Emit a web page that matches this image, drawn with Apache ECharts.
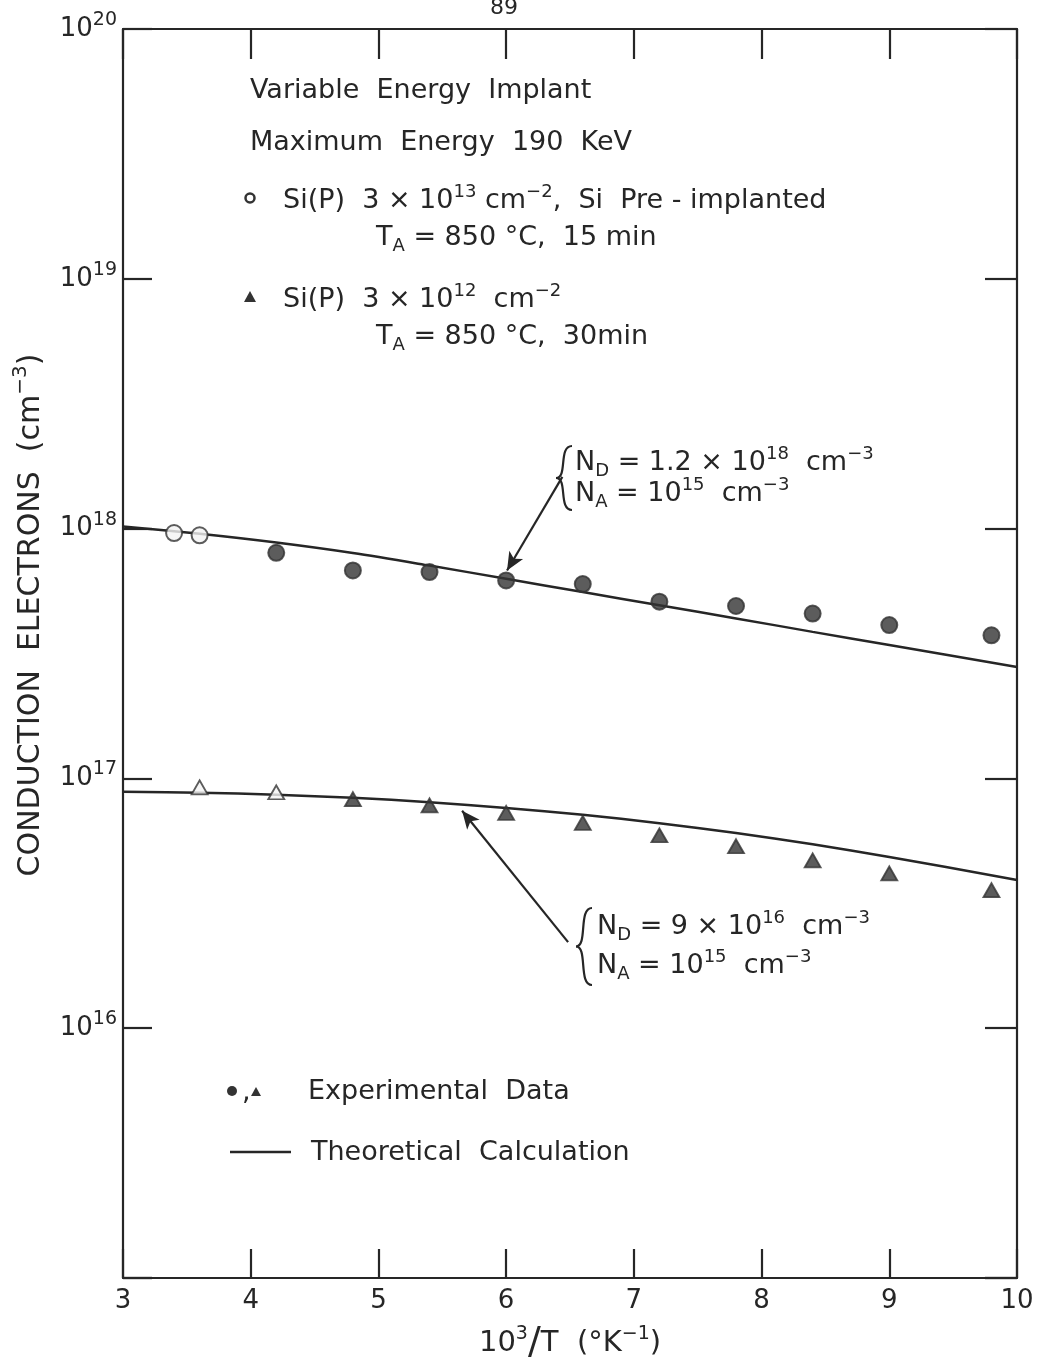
<!DOCTYPE html>
<html>
<head>
<meta charset="utf-8">
<script src="https://cdn.jsdelivr.net/npm/echarts@6/dist/echarts.min.js"></script>
<style>
html,body{margin:0;padding:0;background:#fff;}
#c{width:1042px;height:1363px;}
</style>
</head>
<body>
<div id="c"></div>
<script>
// ---- data ----
const xTicks = [3, 4, 5, 6, 7, 8, 9, 10];
const yExponents = [15, 16, 17, 18, 19, 20];

// Si(P) 3e13, Si pre-implanted (circles)
const circleX = [3.4, 3.6, 4.2, 4.8, 5.4, 6.0, 6.6, 7.2, 7.8, 8.4, 9.0, 9.8];
const circleY = [9.6e17, 9.4e17, 8.0e17, 6.8e17, 6.7e17, 6.2e17, 6.0e17, 5.1e17, 4.9e17, 4.57e17, 4.11e17, 3.74e17];

// Si(P) 3e12 (triangles)
const triX = [3.6, 4.2, 4.8, 5.4, 6.0, 6.6, 7.2, 7.8, 8.4, 9.0, 9.8];
const triY = [9.2e16, 8.8e16, 8.26e16, 7.8e16, 7.27e16, 6.63e16, 5.92e16, 5.35e16, 4.7e16, 4.17e16, 3.57e16];

// theoretical calculations
const theoryX = [3.0, 3.6, 4.2, 4.8, 5.4, 6.0, 6.6, 7.2, 7.8, 8.4, 9.0, 10.0];
const theoryUpper = [1.02e18, 9.53e17, 8.79e17, 7.98e17, 7.11e17, 6.3e17, 5.57e17, 4.93e17, 4.37e17, 3.86e17, 3.42e17, 2.79e17];
const theoryLower = [8.85e16, 8.77e16, 8.6e16, 8.36e16, 8.03e16, 7.62e16, 7.15e16, 6.62e16, 6.04e16, 5.45e16, 4.85e16, 3.92e16];

// annotation arrows [tail, tip] in data coordinates
const arrowUpper = [[6.44, 1.61e18], [6.007, 6.8e17]];
const arrowLower = [[6.485, 2.21e16], [5.655, 7.42e16]];

// ---- chart ----
const F = 'DejaVu Sans';
const C = '#262626';
const zip = (xs, ys) => xs.map((x, i) => [x, ys[i]]);

function richFor(size) {
  const s = Math.round(size * 0.67);
  return {
    n: { fontSize: size, fontFamily: F, fill: C },
    p: { fontSize: s, fontFamily: F, fill: C, padding: [0, 0, Math.round(size * 0.67), 0] },
    q: { fontSize: s, fontFamily: F, fill: C, padding: [Math.round(size * 0.6), 0, 0, 0] }
  };
}
function T(x, y, text, size, rot) {
  size = size || 27;
  return {
    type: 'text', x: x, y: y, silent: true, rotation: rot || 0,
    style: { text: text, rich: richFor(size), verticalAlign: 'middle', align: rot ? 'center' : 'left', fontFamily: F, fontSize: size, fill: C }
  };
}
function brace(x, top, bottom) {
  const mid = (top + bottom) / 2;
  const w = 12;
  const st = { fill: null, stroke: C, lineWidth: 2.2 };
  return [
    { type: 'bezierCurve', silent: true,
      shape: { x1: x + w, y1: top, x2: x - 4, y2: mid, cpx1: x - 2, cpy1: top, cpx2: x + 8, cpy2: mid },
      style: st },
    { type: 'bezierCurve', silent: true,
      shape: { x1: x - 4, y1: mid, x2: x + w, y2: bottom, cpx1: x + 8, cpy1: mid, cpx2: x - 2, cpy2: bottom },
      style: st }
  ];
}

const chart = echarts.init(document.getElementById('c'), null, { renderer: 'canvas' });

const axisLineStyle = { color: C, width: 2.2 };

const option = {
  backgroundColor: '#fff',
  animation: false,
  grid: { left: 123, right: 25, top: 29, bottom: 85, containLabel: false, outerBoundsMode: 'none' },
  xAxis: [
    {
      type: 'value', min: xTicks[0], max: xTicks[xTicks.length - 1], interval: 1,
      position: 'bottom',
      axisLine: { show: true, lineStyle: axisLineStyle },
      axisTick: { show: true, inside: true, length: 29, lineStyle: { color: C, width: 2.2 } },
      splitLine: { show: false },
      axisLabel: { show: true, margin: 10, fontSize: 26, fontFamily: F, color: C },
      name: '{n|10}{p|3}{s|/}{n|T  (°K}{p|−1}{n|)}',
      nameLocation: 'middle', nameGap: 46,
      nameTextStyle: {
        rich: {
          n: { fontSize: 29, fontFamily: F, color: C },
          p: { fontSize: 19, fontFamily: F, color: C, padding: [0, 0, 18, 0] },
          s: { fontSize: 38, fontFamily: F, color: C }
        }
      }
    },
    {
      type: 'value', min: xTicks[0], max: xTicks[xTicks.length - 1], interval: 1,
      position: 'top',
      axisLine: { show: true, lineStyle: axisLineStyle },
      axisTick: { show: true, inside: true, length: 30, lineStyle: { color: C, width: 2.2 } },
      splitLine: { show: false },
      axisLabel: { show: false }
    }
  ],
  yAxis: [
    {
      type: 'log', logBase: 10,
      min: Math.pow(10, yExponents[0]), max: Math.pow(10, yExponents[yExponents.length - 1]),
      position: 'left',
      axisLine: { show: true, lineStyle: axisLineStyle },
      axisTick: { show: true, inside: true, length: 29, lineStyle: { color: C, width: 2.2 } },
      splitLine: { show: false },
      minorTick: { show: false },
      axisLabel: {
        show: true, margin: 6,
        formatter: function (v) {
          const e = Math.round(Math.log10(v));
          if (e === yExponents[0]) return '';
          return '{b|10}{s|' + e + '}';
        },
        rich: {
          b: { fontSize: 26, fontFamily: F, color: C },
          s: { fontSize: 19, fontFamily: F, color: C, padding: [0, 0, 18, 0] }
        }
      }
    },
    {
      type: 'log', logBase: 10,
      min: Math.pow(10, yExponents[0]), max: Math.pow(10, yExponents[yExponents.length - 1]),
      position: 'right',
      axisLine: { show: true, lineStyle: axisLineStyle },
      axisTick: { show: true, inside: true, length: 32, lineStyle: { color: C, width: 2.2 } },
      splitLine: { show: false },
      minorTick: { show: false },
      axisLabel: { show: false }
    }
  ],
  series: [
    {
      name: 'theory upper', type: 'line', data: zip(theoryX, theoryUpper),
      showSymbol: false, smooth: 0.3, silent: true,
      lineStyle: { color: C, width: 2.5 }, z: 2
    },
    {
      name: 'theory lower', type: 'line', data: zip(theoryX, theoryLower),
      showSymbol: false, smooth: 0.3, silent: true,
      lineStyle: { color: C, width: 2.5 }, z: 2
    },
    {
      name: 'Si(P) 3e13', type: 'scatter', data: zip(circleX, circleY),
      symbol: 'circle', symbolSize: 16, z: 3,
      itemStyle: {
        color: function (p) { return p.dataIndex < 2 ? '#f4f4f4' : '#333'; },
        borderColor: '#333', borderWidth: 2
      },
      markLine: {
        silent: true, symbol: ['none', 'arrow'], symbolSize: [12, 18],
        label: { show: false },
        lineStyle: { color: C, width: 2.2, type: 'solid' },
        data: [
          [{ coord: arrowUpper[0] }, { coord: arrowUpper[1] }],
          [{ coord: arrowLower[0] }, { coord: arrowLower[1] }]
        ]
      }
    },
    {
      name: 'Si(P) 3e12', type: 'scatter', data: zip(triX, triY),
      symbol: 'triangle', symbolSize: [16, 14], z: 3,
      itemStyle: {
        color: function (p) { return p.dataIndex < 2 ? '#f4f4f4' : '#333'; },
        borderColor: '#333', borderWidth: 1.8
      }
    }
  ],
  graphic: [
    T(490, 8, '89', 22),
    T(31, 615, '{n|CONDUCTION  ELECTRONS  (cm}{p|−3}{n|)}', 30, Math.PI / 2),
    T(250, 91, 'Variable  Energy  Implant'),
    T(250, 143, 'Maximum  Energy  190  KeV'),
    { type: 'circle', silent: true, shape: { cx: 250, cy: 198, r: 4.5 }, style: { fill: '#fff', stroke: '#333', lineWidth: 2.5 } },
    T(283, 201, '{n|Si(P)  3 × 10}{p|13}{n| cm}{p|−2}{n|,  Si  Pre - implanted}'),
    T(376, 238, '{n|T}{q|A}{n| = 850 °C,  15 min}'),
    { type: 'polygon', silent: true, shape: { points: [[250, 291], [244, 302], [256, 302]] }, style: { fill: '#333' } },
    T(283, 300, '{n|Si(P)  3 × 10}{p|12}{n|  cm}{p|−2}'),
    T(376, 337, '{n|T}{q|A}{n| = 850 °C,  30min}'),
    ...brace(560, 446, 510),
    T(575, 463, '{n|N}{q|D}{n| = 1.2 × 10}{p|18}{n|  cm}{p|−3}'),
    T(575, 494, '{n|N}{q|A}{n| = 10}{p|15}{n|  cm}{p|−3}'),
    ...brace(580, 908, 985),
    T(597, 927, '{n|N}{q|D}{n| = 9 × 10}{p|16}{n|  cm}{p|−3}'),
    T(597, 966, '{n|N}{q|A}{n| = 10}{p|15}{n|  cm}{p|−3}'),
    { type: 'circle', silent: true, shape: { cx: 232, cy: 1091, r: 5 }, style: { fill: '#333' } },
    T(242, 1093, ','),
    { type: 'polygon', silent: true, shape: { points: [[256, 1087], [251, 1096], [261, 1096]] }, style: { fill: '#333' } },
    T(308, 1092, 'Experimental  Data'),
    { type: 'line', silent: true, shape: { x1: 230, y1: 1152, x2: 291, y2: 1152 }, style: { stroke: C, lineWidth: 2.5 } },
    T(311, 1153, 'Theoretical  Calculation')
  ]
};
chart.setOption(option);
</script>
</body>
</html>
